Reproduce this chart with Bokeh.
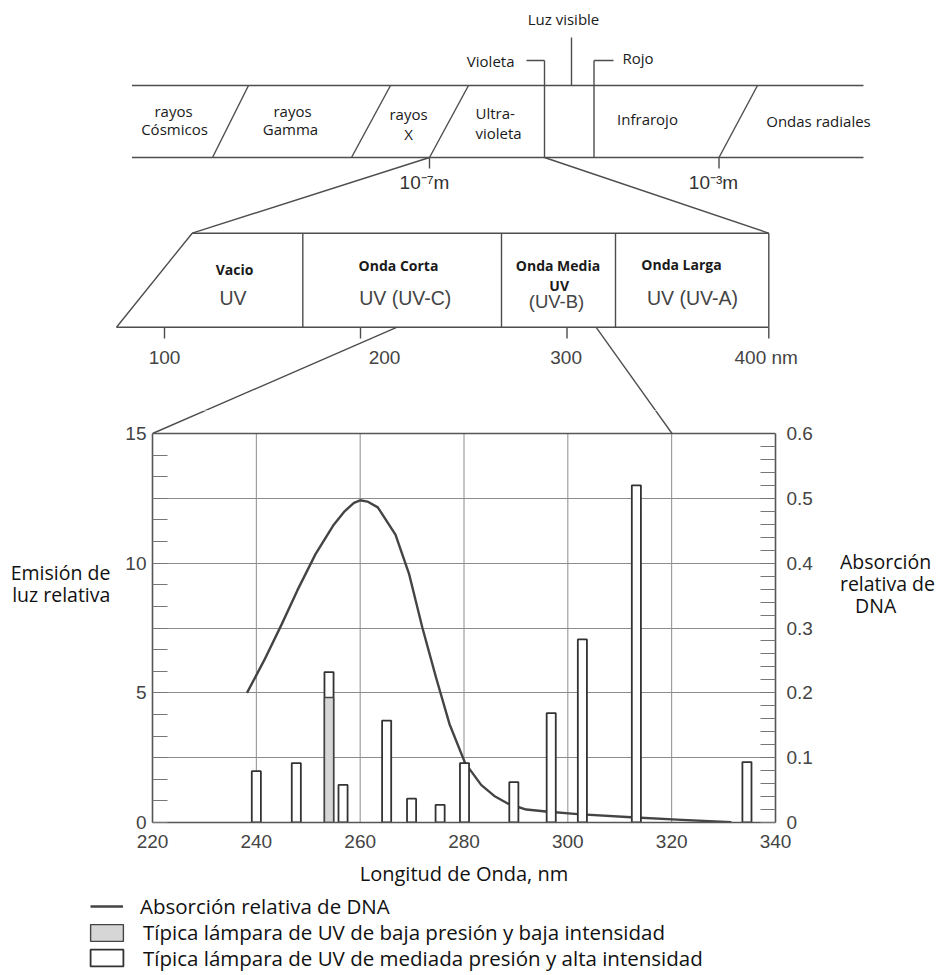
from bokeh.plotting import figure
from bokeh.layouts import column
from bokeh.models import (Range1d, LinearAxis, FixedTicker, PrintfTickFormatter,
                          Span, Legend, LegendItem)
from bokeh.core.properties import value
from bokeh.embed import file_html
from bokeh.resources import INLINE

# ------------------------------------------------------------------ data
# mercury lamp emission lines (nm) and relative emission (left axis)
lamp_nm = [240.0, 247.7, 254.0, 256.7, 265.1, 269.9, 275.4, 280.1, 289.6, 296.8, 302.8, 313.2, 334.5]
lamp_high = [1.98, 2.29, 5.80, 1.45, 3.93, 0.92, 0.68, 2.29, 1.56, 4.22, 7.06, 13.0, 2.33]
low_nm = [254.0]
low_val = [4.82]

# relative DNA absorption (right axis)
dna_nm = [238.2, 241.5, 244.9, 247.9, 251.4, 254.8, 257.0, 258.8, 260.0, 261.4, 263.4,
          266.8, 269.4, 272.0, 274.6, 277.2, 280.2, 283.3, 286.0, 288.5, 292.0, 295.8,
          301.9, 312.2, 322.0, 331.5]
dna_abs = [0.200, 0.250, 0.306, 0.358, 0.414, 0.458, 0.480, 0.493, 0.497, 0.495, 0.486,
           0.444, 0.384, 0.300, 0.224, 0.152, 0.092, 0.058, 0.040, 0.029, 0.020, 0.017,
           0.013, 0.008, 0.004, 0.0004]

x_ticks = [220, 240, 260, 280, 300, 320, 340]
v_grid = [240, 260, 280, 300, 320]
left_ticks = [0, 5, 10, 15]
left_minor = [0.83, 1.67, 2.5, 3.33, 4.17, 5.83, 6.67, 7.5, 8.33, 9.17, 10.83, 11.67,
              12.5, 13.33, 14.17]
h_grid = [0, 2.5, 5, 7.5, 10, 12.5, 15]
right_ticks = [0, 0.1, 0.2, 0.3, 0.4, 0.5, 0.6]
right_minor = [0.02, 0.04, 0.06, 0.08, 0.12, 0.14, 0.16, 0.18, 0.22, 0.24, 0.26, 0.28,
               0.32, 0.34, 0.36, 0.38, 0.42, 0.44, 0.46, 0.48, 0.52, 0.54, 0.56, 0.58]

legend_labels = ["Absorción relativa de DNA",
                 "Típica lámpara de UV de baja presión y baja intensidad",
                 "Típica lámpara de UV de mediada presión y alta intensidad"]

# ------------------------------------------------------------------ schematic layout (page px)
spectrum_lines = [  # x0, y0, x1, y1
    (131.5, 85, 863, 85), (131.5, 157, 863, 157),
    (248, 85, 212, 157), (390, 85, 351, 157), (468, 85, 429, 157), (757, 85, 718.5, 157),
    (544, 60, 544, 157), (526, 60, 544, 60),
    (593.5, 60, 593.5, 157), (593.5, 60, 613, 60),
    (571, 37, 571, 85),
    (429, 157, 429, 168), (718.5, 157, 718.5, 168),
    (429, 157, 191.7, 232.7), (544, 157, 768.3, 232.7),
    (191.7, 232.7, 768.3, 232.7), (116, 326.7, 768.3, 326.7), (116, 326.7, 191.7, 232.7),
    (302.3, 232.7, 302.3, 326.7), (501, 232.7, 501, 326.7), (615, 232.7, 615, 326.7),
    (768.3, 232.7, 768.3, 326.7),
    (164, 326.7, 164, 338), (360, 326.7, 360, 338), (566.5, 326.7, 566.5, 338),
    (768.3, 326.7, 768.3, 338),
]
zoom_lines = [(396.7, 326.7, 152, 433), (595.5, 326.7, 671.5, 433)]

band_text = [("rayos", 173, 110), ("Cósmicos", 174, 128), ("rayos", 292, 110),
             ("Gamma", 290, 128), ("rayos", 408, 113), ("X", 408, 133),
             ("Infrarojo", 647, 118), ("Ondas radiales", 818, 120), ("Luz visible", 563, 18)]
band_text_left = [("Ultra-", 475, 112), ("violeta", 475, 132), ("Rojo", 622, 57)]
band_text_right = [("Violeta", 514, 60)]
power_text = [("10⁻⁷m", 424, 182), ("10⁻³m", 713, 182)]
uv_bold = [("Vacio", 234, 269), ("Onda Corta", 398, 265), ("Onda Media", 557.5, 265),
           ("UV", 558.7, 285), ("Onda Larga", 681, 264)]
uv_light = [("UV", 232.5, 297), ("UV (UV-C)", 404.7, 297), ("UV (UV-A)", 692, 297)]
uv_light_small = [("(UV-B)", 556, 301)]
uv_scale = [("100", 164, 357), ("200", 384, 357), ("300", 565.6, 357)]
uv_scale_left = [("400 nm", 734, 357)]

W, H = 937, 975
TOP_H = 410                  # schematic figure: page 0 .. 410
FL, FR, FB = 152, 775, 822   # chart frame edges (page px)
FT_CHART = 433               # page y of value 15
CH_BOTTOM = 70               # chart figure border below the frame
LINE_C = "#4d4d4d"
SANS = "Open Sans"
HELV = "Liberation Sans"

# ------------------------------------------------------------------ top schematic figure
top = figure(width=W, height=TOP_H, x_range=Range1d(0, W), y_range=Range1d(TOP_H, 0),
             output_backend="svg", toolbar_location=None, x_axis_type=None, y_axis_type=None,
             min_border=0, title=None, frame_align=False)
top.outline_line_color = None
top.grid.visible = False
segs = spectrum_lines + zoom_lines
top.segment(x0=[s[0] for s in segs], y0=[s[1] for s in segs], x1=[s[2] for s in segs],
            y1=[s[3] for s in segs], line_color=LINE_C, line_width=1.4)


def add_text(fig, items, font, size, align="center", color="#1a1a1a", style="normal"):
    fig.text(x=[t[1] for t in items], y=[t[2] for t in items], text=[t[0] for t in items],
             text_font=value(font), text_font_size=value(size), text_align=align,
             text_baseline="middle", text_color=color, text_font_style=style)


add_text(top, band_text, SANS, "15px")
add_text(top, band_text_left, SANS, "15px", align="left")
add_text(top, band_text_right, SANS, "15px", align="right")
add_text(top, power_text, HELV, "19px", color="#333")
add_text(top, uv_bold, SANS, "14px", style="bold")
add_text(top, uv_light, HELV, "19.5px", color="#444")
add_text(top, uv_light_small, HELV, "18.5px", color="#444")
add_text(top, uv_scale, HELV, "19px", color="#444")
add_text(top, uv_scale_left, HELV, "19px", align="left", color="#444")

# ------------------------------------------------------------------ chart figure
frame_w = FR - FL
frame_h = FB - TOP_H
px_nm = frame_w / (x_ticks[-1] - x_ticks[0])
px_val = (FB - FT_CHART) / 15.0
y_top = frame_h / px_val


def cx(px):
    return x_ticks[0] + (px - FL) / px_nm


def cy(py):
    return (FB - py) / px_val


p = figure(frame_width=frame_w, frame_height=frame_h,
           x_range=Range1d(x_ticks[0], x_ticks[-1]), y_range=Range1d(0, y_top),
           output_backend="svg", toolbar_location=None,
           min_border_left=FL, min_border_right=W - FR, min_border_top=0,
           min_border_bottom=CH_BOTTOM, title=None, frame_align=False)
p.extra_y_ranges = {"abs": Range1d(0, y_top / 25.0)}
p.outline_line_color = None
p.xgrid.visible = False
p.ygrid.ticker = FixedTicker(ticks=h_grid)
p.ygrid.grid_line_color = "#8c8c8c"
p.ygrid.grid_line_width = 1

# vertical grid lines limited to the chart box
p.segment(x0=v_grid, y0=[0] * len(v_grid), x1=v_grid, y1=[15] * len(v_grid),
          line_color="#8c8c8c", line_width=1, level="underlay")

# continuation of the zoom lines down to the chart box
p.segment(x0=[cx(s[0]) for s in zoom_lines], y0=[cy(s[1]) for s in zoom_lines],
          x1=[cx(s[2]) for s in zoom_lines], y1=[cy(s[3]) for s in zoom_lines],
          line_color=LINE_C, line_width=1.4)

LINE_STYLE = dict(line_color="#444444", line_width=2.4, line_join="round")
HIGH_STYLE = dict(fill_color="white", line_color="#333333", line_width=1.8)
LOW_STYLE = dict(fill_color="#d6d6d6", line_color="#444444", line_width=1.4)

p.line(dna_nm, dna_abs, y_range_name="abs", **LINE_STYLE)
p.vbar(x=lamp_nm, top=lamp_high, width=1.75, **HIGH_STYLE)
p.vbar(x=low_nm, top=low_val, width=1.75, **LOW_STYLE)

p.add_layout(Span(location=15, dimension="width", line_color="#555555", line_width=1.6))

ax_l = p.yaxis[0]
ax_l.ticker = FixedTicker(ticks=left_ticks, minor_ticks=left_minor)
ax_l.bounds = (0, 15)
ax_b = p.xaxis[0]
ax_b.ticker = FixedTicker(ticks=x_ticks, minor_ticks=[])
ax_r = LinearAxis(y_range_name="abs", ticker=FixedTicker(ticks=right_ticks, minor_ticks=right_minor),
                  formatter=PrintfTickFormatter(format="%g"), bounds=(0, 0.6))
p.add_layout(ax_r, "right")

for ax in (ax_l, ax_b, ax_r):
    ax.axis_line_color = "#555555"
    ax.axis_line_width = 1.6
    ax.major_label_text_font = HELV
    ax.major_label_text_font_size = "19px"
    ax.major_label_text_color = "#444444"
    ax.major_tick_out = 0
    ax.minor_tick_out = 0
    ax.major_tick_line_color = "#777777"
    ax.minor_tick_line_color = "#777777"
    ax.axis_label_text_font = SANS
    ax.axis_label_text_font_style = "normal"
    ax.axis_label_text_color = "#111111"
for ax in (ax_l, ax_r):
    ax.major_tick_in = 15
    ax.minor_tick_in = 15
    ax.axis_label_orientation = "horizontal"
    ax.axis_label_text_font_size = "19.5px"
    ax.axis_label_text_line_height = 0.82
NB = "\u00a0"
ax_l.major_label_standoff = 6
ax_l.axis_label = "\n".join(["Emisión de", "luz relativa", NB, NB, NB])
ax_l.axis_label_standoff = 12
ax_r.major_label_standoff = 11
ax_r.axis_label = "\n".join(["Absorción", "relativa de", NB * 3 + "DNA", NB, NB, NB])
ax_r.axis_label_standoff = 24
ax_b.major_tick_in = 0
ax_b.major_label_standoff = 12
ax_b.axis_label = "Longitud de Onda, nm"
ax_b.axis_label_text_font_size = "20px"
ax_b.axis_label_standoff = 9

# ------------------------------------------------------------------ legend strip
LEG_TOP = TOP_H + frame_h + CH_BOTTOM
LEG_H = H - LEG_TOP
lg = figure(width=W, height=LEG_H, x_range=Range1d(0, W), y_range=Range1d(0, LEG_H),
            output_backend="svg", toolbar_location=None, x_axis_type=None, y_axis_type=None,
            min_border=0, title=None, frame_align=False)
lg.outline_line_color = None
lg.grid.visible = False
# hidden copies of the chart series, used only as legend entries
g_line = lg.line(dna_nm, dna_abs, visible=False, **LINE_STYLE)
g_low = lg.vbar(x=low_nm, top=low_val, width=1.75, visible=False, **LOW_STYLE)
g_high = lg.vbar(x=lamp_nm, top=lamp_high, width=1.75, visible=False, **HIGH_STYLE)

legend_specs = [  # renderer, label, glyph left, glyph width, glyph height, standoff, text centre y
    (g_line, legend_labels[0], 90, 33, 26, 17, 907),
    (g_low, legend_labels[1], 86, 41, 21, 16, 933),
    (g_high, legend_labels[2], 86, 41, 21, 16, 958.5),
]
ITEM_H = 26
for rend, lab, gx, gw, gh, so, tcy in legend_specs:
    leg = Legend(items=[LegendItem(label=lab, renderers=[rend])],
                 location=(gx, H - (tcy + ITEM_H / 2)), orientation="vertical",
                 padding=0, spacing=0, margin=0, click_policy="none",
                 glyph_width=gw, glyph_height=gh, label_height=ITEM_H, label_standoff=so,
                 label_text_font=SANS, label_text_font_size="20.5px", label_text_color="#111111",
                 border_line_color=None, background_fill_alpha=0, inactive_fill_alpha=0)
    lg.add_layout(leg)

layout = column(top, p, lg, spacing=0)
open("out.html", "w").write(file_html(layout, INLINE))
